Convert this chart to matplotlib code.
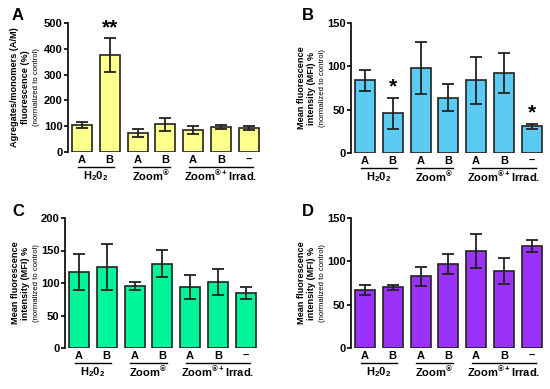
import numpy as np
import matplotlib
matplotlib.use("Agg")
import matplotlib.pyplot as plt

plt.rcParams["font.family"] = ["Liberation Sans", "DejaVu Sans"]
plt.rcParams["font.weight"] = "bold"
plt.rcParams["mathtext.fontset"] = "custom"
plt.rcParams["mathtext.rm"] = "Liberation Sans:bold"
plt.rcParams["mathtext.bf"] = "Liberation Sans:bold"
plt.rcParams["mathtext.default"] = "rm"

# bar labels and groups (shared by all panels)
bar_labels = ["A", "B", "A", "B", "A", "B", "\u2013"]
groups = [("H$_2$0$_2$", 0, 1), ("Zoom$^{\u00ae}$", 2, 3), ("Zoom$^{\u00ae + }$Irrad.", 4, 6)]

# panel A: aggregates/monomers
a_mean = [105, 377, 75, 108, 85, 97, 93]
a_err = [12, 65, 15, 25, 15, 8, 8]
# panel B
b_mean = [84, 46, 98, 64, 84, 92, 31]
b_err = [12, 18, 30, 16, 27, 23, 3]
# panel C
c_mean = [117, 125, 96, 130, 94, 101, 85]
c_err = [27, 35, 6, 21, 19, 20, 9]
# panel D
d_mean = [67, 70, 83, 97, 112, 89, 118]
d_err = [6, 3, 11, 12, 20, 15, 7]

W, H = 550, 389
fig = plt.figure(figsize=(W / 100, H / 100), dpi=100)


def px_axes(left, top, right, bottom):
    return fig.add_axes([left / W, 1 - bottom / H, (right - left) / W, (bottom - top) / H])


def panel(ax, means, errs, color, ymax, step, letter, ylab, stars, letter_xy, lab_dx):
    x = np.arange(len(means))
    ax.bar(x, means, width=0.72, color=color, edgecolor="#222222", linewidth=1.2, zorder=2)
    ax.errorbar(x, means, yerr=errs, fmt="none", ecolor="#222222", elinewidth=1.3,
                capsize=4.3, capthick=1.3, zorder=3)
    for i, s in stars.items():
        ax.text(i, means[i] + errs[i] + ymax * 0.005, s, ha="center", va="bottom",
                fontsize=15, fontweight="bold")
    ax.set_xlim(-0.5, 6.4)
    ax.set_ylim(0, ymax)
    ax.set_yticks(np.arange(0, ymax + 1, step))
    ax.tick_params(axis="y", labelsize=8, width=1.2, length=3, pad=1)
    for t in ax.get_yticklabels():
        t.set_fontweight("bold")
    ax.set_xticks([])
    for sp in ("top", "right", "bottom"):
        ax.spines[sp].set_visible(False)
    ax.spines["left"].set_linewidth(1.2)
    # category labels and group lines below the axis
    trans = ax.get_xaxis_transform()
    for i, lab in enumerate(bar_labels):
        ax.text(i, -0.025, lab, transform=trans, ha="center", va="top", fontsize=8,
                fontweight="bold", clip_on=False)
    for name, i0, i1 in groups:
        ax.plot([i0 - 0.15, i1 + 0.15], [-0.115, -0.115], transform=trans, color="black",
                lw=1.0, clip_on=False)
        ax.text((i0 + i1) / 2, -0.13, name, transform=trans, ha="center", va="top",
                fontsize=8, fontweight="bold", clip_on=False)
    # panel letter (figure pixels)
    fig.text(letter_xy[0] / W, 1 - letter_xy[1] / H, letter, fontsize=12,
             fontweight="bold", ha="left", va="center")
    # multi-line y label, offsets in pixels left of the spine
    left_px = ax.get_position().x0 * W
    mid = (ax.get_position().y0 + ax.get_position().y1) / 2
    for (txt, fs, wt), dx in zip(ylab, lab_dx):
        fig.text((left_px - dx) / W, mid, txt, rotation=90, ha="center", va="center",
                 fontsize=fs, fontweight=wt)


ylab_a = [("Agregates/monomers (A/M)", 6.6, "bold"),
          ("fluorescence (%)", 6.6, "bold"),
          ("(normalized to control)", 5.6, "normal")]
ylab_mfi = [("Mean fluorescence", 6.6, "bold"),
            ("intensity (MFI) %", 6.6, "bold"),
            ("(normalized to control)", 5.6, "normal")]

axA = px_axes(68, 23, 260, 152)
panel(axA, a_mean, a_err, "#FFFF8C", 500, 100, "A", ylab_a, {1: "**"},
      (12, 15), (53, 42, 32))

axB = px_axes(351, 23, 543, 153)
panel(axB, b_mean, b_err, "#5CCBF4", 150, 50, "B", ylab_mfi, {1: "*", 6: "*"},
      (302, 16), (49, 39, 29))

axC = px_axes(65, 218, 257, 348)
panel(axC, c_mean, c_err, "#00F59A", 200, 50, "C", ylab_mfi, {},
      (12, 211), (49, 39, 29))

axD = px_axes(351, 218, 543, 348)
panel(axD, d_mean, d_err, "#9A32FA", 150, 50, "D", ylab_mfi, {},
      (302, 211), (49, 39, 29))

fig.savefig("out.png", dpi=100)
